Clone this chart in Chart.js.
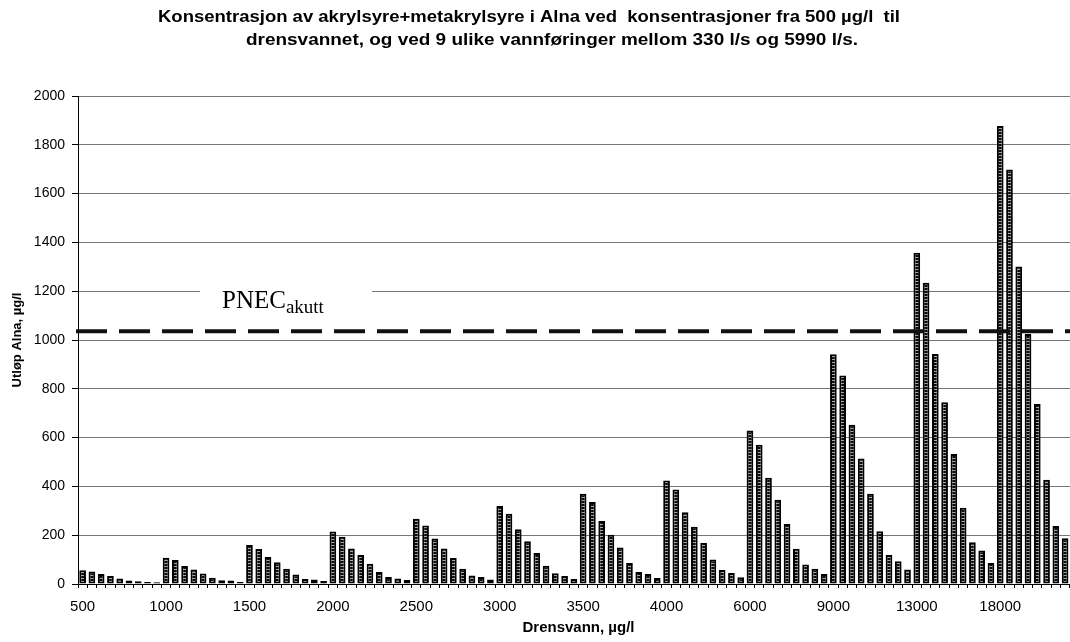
<!DOCTYPE html>
<html><head><meta charset="utf-8">
<script src="https://cdn.jsdelivr.net/npm/chart.js@4"></script>
<style>
html,body{margin:0;padding:0;background:#fff;overflow:hidden;width:1070px;height:642px}
#c{position:absolute;left:0;top:0}
</style></head>
<body><canvas id="c" width="1091" height="642"></canvas>
<script>
// Concentrations in drainage water (µg/l); 9 flows per concentration (330 l/s ... 5990 l/s)
const concentrations = [500, 1000, 1500, 2000, 2500, 3000, 3500, 4000, 6000, 9000, 13000, 18000];
const v500   = [56, 51, 41, 33, 23, 14, 11, 8, 7];
const v1000  = [108, 98, 74, 59, 43, 26, 15, 14, 8];
const v1500  = [160, 143, 111, 89, 63, 39, 20, 18, 12];
const v2000  = [215, 194, 146, 119, 83, 49, 29, 23, 16];
const v2500  = [267, 240, 186, 146, 107, 62, 35, 29, 18];
const v3000  = [320, 288, 224, 175, 127, 75, 44, 33, 20];
const v3500  = [370, 336, 258, 202, 150, 86, 49, 41, 25];
const v4000  = [424, 387, 294, 235, 168, 100, 57, 45, 28];
const v6000  = [629, 571, 435, 345, 246, 144, 80, 62, 41];
const v9000  = [942, 854, 653, 514, 370, 216, 119, 93, 59];
const v13000 = [1358, 1235, 943, 745, 533, 312, 171, 137, 86];
const v18000 = [1877, 1699, 1301, 1025, 738, 427, 238, 187, 120];
const groups = [v500, v1000, v1500, v2000, v2500, v3000, v3500, v4000, v6000, v9000, v13000, v18000];
const pnecAkutt = 1036;
const yMin = 0, yMax = 2000, yStep = 200;
const titleLine1 = "Konsentrasjon av akrylsyre+metakrylsyre i Alna ved  konsentrasjoner fra 500 µg/l  til";
const titleLine2 = "drensvannet, og ved 9 ulike vannføringer mellom 330 l/s og 5990 l/s.";
const yTitle = "Utløp Alna, µg/l";
const xTitle = "Drensvann, µg/l";

const labels = [], values = [], groupStart = [];
groups.forEach((g, gi) => g.forEach((v, i) => {
  labels.push(String(concentrations[gi]));
  values.push(v);
  groupStart.push(i === 0);
}));

const canvas = document.getElementById('c');
const mainCtx = canvas.getContext('2d');
const pc = document.createElement('canvas'); pc.width = 1; pc.height = 3;
const pg = pc.getContext('2d');
pg.fillStyle = '#0a0a0a'; pg.fillRect(0, 0, 1, 3);
pg.fillStyle = '#a8a8a8'; pg.fillRect(0, 2, 1, 1);
const pattern = mainCtx.createPattern(pc, 'repeat');

const SANS = '"Liberation Sans", Arial, sans-serif';
const SERIF = '"Liberation Serif", "Times New Roman", serif';

function fitText(ctx, text, x, y, width, align) {
  const m = ctx.measureText(text).width;
  const k = width / m;
  ctx.save();
  const left = align === 'center' ? x - width / 2 : x;
  ctx.translate(left, y);
  ctx.scale(k, 1);
  ctx.textAlign = 'left';
  ctx.fillText(text, 0, 0);
  ctx.restore();
}

const overlay = {
  id: 'overlay',
  afterDatasetsDraw(chart) {
    const {ctx, chartArea: a, scales: {y}} = chart;
    const py = y.getPixelForValue(pnecAkutt);
    ctx.save();
    ctx.strokeStyle = '#111'; ctx.lineWidth = 4; ctx.setLineDash([31, 12]);
    ctx.beginPath(); ctx.moveTo(a.left - 2, py); ctx.lineTo(a.right, py); ctx.stroke();
    ctx.restore();
  },
  afterDraw(chart) {
    const {ctx} = chart;
    ctx.save();
    ctx.fillStyle = '#fff';
    ctx.fillRect(200, 272, 172, 48);
    ctx.fillStyle = '#000';
    ctx.textBaseline = 'alphabetic';
    ctx.textAlign = 'left';
    ctx.font = '25px ' + SERIF;
    ctx.fillText('PNEC', 222, 308);
    const w = ctx.measureText('PNEC').width;
    ctx.font = '19px ' + SERIF;
    ctx.fillText('akutt', 222 + w, 313);
    ctx.font = 'bold 16px ' + SANS;
    ctx.textBaseline = 'middle';
    fitText(ctx, titleLine1, 529, 18, 742, 'center');
    fitText(ctx, titleLine2, 246, 41, 612, 'left');
    ctx.restore();
  }
};

new Chart(canvas, {
  type: 'bar',
  data: {
    labels: labels,
    datasets: [{
      data: values,
      backgroundColor: pattern,
      borderColor: '#000',
      borderWidth: 2,
      borderSkipped: false,
      categoryPercentage: 1,
      barPercentage: 0.72
    }]
  },
  options: {
    responsive: false,
    animation: false,
    devicePixelRatio: 1,
    layout: {padding: {left: 0, right: 12, top: 96, bottom: 0}},
    plugins: {legend: {display: false}, title: {display: false}, tooltip: {enabled: false}},
    scales: {
      x: {
        afterFit(s) { s.height = 58; },
        grid: {display: true, drawOnChartArea: false, drawTicks: true, tickLength: 4, color: '#000', offset: true},
        border: {display: true, color: '#000', width: 1},
        ticks: {
          autoSkip: false, maxRotation: 0, minRotation: 0, padding: 10, color: '#000',
          font: {family: SANS, size: 15},
          callback(v, i) { return groupStart[i] ? labels[i] : ''; }
        },
        title: {display: true, text: xTitle, color: '#000', font: {family: SANS, size: 15, weight: 'bold'}, padding: {top: 0, bottom: 5}}
      },
      y: {
        min: yMin, max: yMax,
        afterFit(s) { s.width = 78; },
        grid: {color: '#777', lineWidth: 1, tickLength: 6, tickColor: '#000'},
        border: {display: true, color: '#000', width: 1},
        ticks: {stepSize: yStep, padding: 7, color: '#000', font: {family: SANS, size: 14},
          callback(v) { return String(v); }},
        title: {display: true, text: yTitle, color: '#000', font: {family: SANS, size: 13, weight: 'bold'}, padding: {top: 10, bottom: 0}}
      }
    }
  },
  plugins: [overlay]
});
</script>
</body></html>
